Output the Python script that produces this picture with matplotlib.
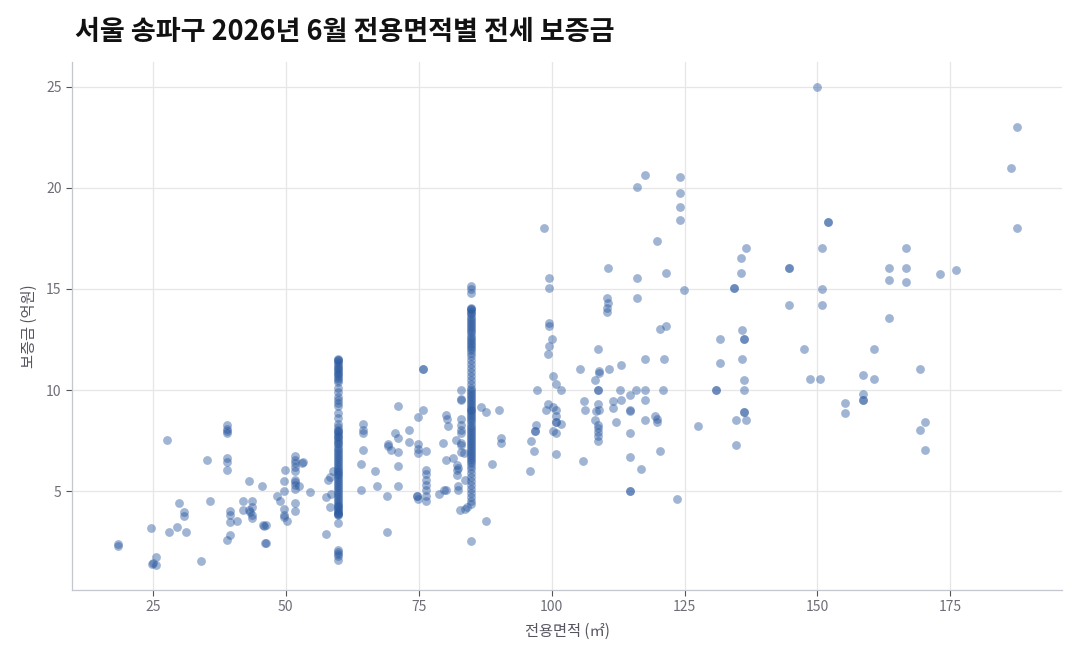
import matplotlib
matplotlib.use("Agg")
import matplotlib.pyplot as plt

plt.rcParams['font.family'] = ['Noto Sans CJK KR', 'DejaVu Sans']

title = "서울 송파구 2026년 6월 전용면적별 전세 보증금"
xlabel = "전용면적 (㎡)"
ylabel = "보증금 (억원)"
xticks = [25, 50, 75, 100, 125, 150, 175]
yticks = [5, 10, 15, 20, 25]

# scattered listings (area m², deposit 억원)
other_area = [18.5, 18.5, 27.6, 24.6, 24.9, 25.0, 25.6, 25.6, 28.0, 29.5, 29.9, 30.8, 30.8, 31.3, 34.0,
              35.1, 35.7, 39.0, 39.0, 39.0, 39.0, 39.0, 39.0, 39.0, 38.9, 39.5, 39.5, 39.5, 39.6, 40.8,
              41.9, 41.9, 43.0, 43.0, 43.2, 43.7, 43.7, 43.7, 43.7, 45.6, 45.8, 46.0, 46.3, 46.1, 46.2,
              48.3, 49.0, 49.8, 49.6, 49.7, 49.7, 49.7, 49.7, 50.3, 51.7, 51.7, 51.7, 51.7, 51.7, 51.7,
              51.7, 51.7, 51.7, 51.7, 51.7, 52.5, 53.1, 53.2, 54.5, 57.5, 57.6, 58.0, 58.3, 58.3, 58.8, 58.6,
              64.1, 64.1, 64.5, 64.5, 64.5, 64.5, 66.7, 67.2, 69.0, 69.0, 69.3, 69.3, 69.8, 70.5, 71.1,
              71.1, 71.1, 71.1, 71.1, 73.1, 73.1, 74.6, 74.7, 74.8, 74.8, 74.8, 74.8, 74.8, 75.8, 75.9,
              75.8, 76.3, 76.3, 76.3, 76.3, 76.3, 76.3, 76.3, 76.3, 78.9, 79.6, 80.2, 80.1, 79.8, 80.2,
              80.4, 80.6, 81.4, 82.1, 82.3, 82.3, 82.4, 82.4, 82.4, 82.3, 82.7, 82.9, 82.9, 82.9, 82.9,
              82.9, 82.9, 82.9, 82.9, 82.9, 83.0, 83.6, 83.8, 83.8, 84.0, 86.8, 87.7, 87.7, 88.8, 90.1,
              90.5, 90.5,
              95.9, 96.7, 96.1, 96.8, 96.8, 97.0, 97.2, 98.6, 99.6, 99.6, 99.6, 99.6, 100.0, 99.6, 99.4,
              100.3, 100.9, 101.8, 99.4, 99.0, 100.3, 100.9, 100.9, 100.8, 100.8, 101.8, 100.3, 100.9,
              100.9, 105.4, 106.1, 106.3, 105.9, 108.75, 108.9, 108.9, 108.1, 108.75, 108.75, 108.75,
              108.3, 108.9, 108.1, 108.75, 108.75, 108.75, 108.75, 108.75, 110.6, 110.4, 110.6, 110.4,
              110.4, 110.8, 111.6, 111.5, 112.1, 113.1, 112.9, 113.1, 114.8, 114.7, 114.7, 114.7, 114.7,
              114.8, 114.8, 115.9, 116.1, 116.1, 116.1, 117.5, 117.5, 117.5, 117.5, 117.5, 116.9, 119.5,
              119.9, 119.9, 119.9, 120.3, 120.4, 121.6, 120.9, 121.1, 121.5, 123.6, 124.1, 124.1, 124.1,
              124.1, 124.9, 127.6, 130.9, 130.9, 131.6, 131.6, 134.4, 134.4, 134.75, 134.75, 135.7, 135.7,
              136.6, 135.9, 136.2, 136.2, 135.9, 136.2, 136.2, 136.2, 136.2, 136.6,
              150.0, 187.6, 186.4, 187.6, 151.9, 151.9, 144.7, 144.7, 150.9, 163.4, 163.4, 166.6, 166.6,
              166.6, 173.1, 176.0, 150.9, 144.7, 150.9, 163.4, 147.4, 148.6, 150.4, 158.6, 160.6, 160.6,
              158.6, 158.6, 158.6, 155.1, 155.1, 169.3, 170.2, 169.3, 170.2]
other_dep = [2.41, 2.28, 7.52, 3.18, 1.42, 1.45, 1.75, 1.34, 2.97, 3.23, 4.42, 3.98, 3.78, 2.97, 1.54,
             6.53, 4.54, 8.27, 8.1, 8.0, 7.87, 6.65, 6.45, 6.07, 2.57, 4.03, 3.81, 3.48, 2.84, 3.53,
             4.54, 4.06, 5.53, 4.06, 4.0, 4.54, 4.22, 3.81, 3.7, 5.28, 3.32, 3.28, 3.32, 2.43, 2.43,
             4.75, 4.54, 6.04, 5.53, 5.01, 4.14, 3.85, 3.73, 3.53, 6.73, 6.53, 6.39, 6.2, 6.0, 5.58,
             5.46, 5.3, 5.13, 4.42, 4.03, 5.25, 6.42, 6.45, 4.97, 2.87, 4.72, 5.54, 5.71, 4.22, 5.99, 4.89,
             6.34, 5.05, 8.35, 8.02, 7.89, 7.03, 6.01, 5.28, 4.75, 2.97, 7.36, 7.23, 7.03, 7.86, 9.24,
             7.61, 6.93, 6.24, 5.28, 8.02, 7.43, 4.75, 4.78, 8.65, 7.36, 7.11, 6.87, 4.64, 11.02, 11.05,
             9.04, 7.0, 6.04, 5.87, 5.54, 5.3, 5.05, 4.75, 4.52, 4.85, 7.39, 6.53, 5.05, 5.05, 8.76,
             8.55, 8.23, 6.65, 7.52, 6.29, 6.07, 6.17, 5.05, 5.25, 5.79, 4.06, 10.03, 9.54, 9.5, 8.55,
             8.27, 8.05, 7.86, 7.39, 7.28, 6.95, 6.9, 5.54, 4.14, 4.2, 9.17, 8.93, 3.53, 6.34, 9.04,
             7.61, 7.39,
             6.01, 7.0, 7.5, 8.0, 8.0, 8.29, 10.02, 18.03, 15.53, 15.03, 13.34, 13.16, 12.52, 12.2, 11.79,
             10.71, 10.31, 10.02, 9.29, 9.02, 9.19, 9.02, 8.71, 8.41, 8.41, 8.33, 8.0, 7.88,
             6.84, 11.03, 9.47, 9.0, 6.51, 12.02, 10.93, 10.85, 10.51, 10.02, 10.02, 9.32,
             8.96, 9.02, 8.53, 8.29, 8.13, 7.91, 7.75, 7.5, 16.03, 14.54, 14.32, 14.04,
             13.87, 11.03, 9.47, 9.11, 8.41, 11.23, 10.02, 9.5, 9.77, 9.02, 8.96, 7.88, 6.71,
             5.02, 5.02, 10.02, 20.05, 15.53, 14.54, 20.61, 11.52, 10.02, 9.52, 8.53, 6.09, 8.71,
             8.58, 8.41, 17.37, 7.0, 13.01, 13.16, 10.02, 11.56, 15.78, 4.6, 20.55, 19.74, 19.04,
             18.41, 14.95, 8.21, 10.02, 10.02, 12.52, 11.32, 15.03, 15.03, 8.53, 7.27, 16.54, 15.78,
             17.04, 12.95, 12.55, 12.55, 11.56, 10.51, 10.02, 8.94, 8.94, 8.53,
             25.0, 23.0, 21.0, 18.03, 18.31, 18.31, 16.02, 16.02, 17.01, 16.02, 15.46, 17.01, 16.02,
             15.33, 15.74, 15.92, 15.02, 14.19, 14.19, 13.55, 12.03, 10.53, 10.53, 10.73, 12.03, 10.53,
             9.8, 9.49, 9.49, 9.37, 8.89, 11.02, 8.43, 8.04, 7.03]

# 59.9 m² listings
area_60 = 59.8
dep_60 = [11.55, 11.5, 11.5, 11.4, 11.3, 11.2, 11.1, 11.05, 10.95, 10.85, 10.8, 10.7, 10.6, 10.5, 10.4,
          10.1, 9.9, 9.65, 9.5, 9.35, 9.2, 8.85, 8.6, 8.35, 8.2, 8.05, 8.0, 7.95, 7.85, 7.75, 7.7, 7.6,
          7.5, 7.4, 7.35, 7.2, 7.1, 7.0, 6.9, 6.8, 6.7, 6.6, 6.5, 6.4, 6.3, 6.2, 6.1, 6.0, 5.95, 5.85,
          5.8, 5.7, 5.6, 5.5, 5.4, 5.3, 5.2, 5.1, 5.0, 4.9, 4.8, 4.7, 4.6, 4.5, 4.4, 4.3, 4.25, 4.2,
          4.1, 4.05, 4.0, 3.95, 3.9, 3.9, 3.85, 3.45, 2.1, 2.0, 1.9, 1.8, 1.6]

# 84.9 m² listings
area_85 = 84.9
dep_85 = [15.15, 15.0, 14.8, 14.05, 14.0, 14.0, 13.9, 13.8, 13.75, 13.6, 13.5, 13.4, 13.3, 13.2, 13.1,
          13.0, 12.9, 12.8, 12.7, 12.6, 12.5, 12.4, 12.3, 12.2, 12.1, 12.0, 11.85, 11.7, 11.5, 11.3,
          11.1, 10.9, 10.7, 10.5, 10.3, 10.1, 10.0, 9.9, 9.8, 9.7, 9.6, 9.5, 9.4, 9.3, 9.2, 9.1, 9.0,
          9.0, 8.9, 8.8, 8.7, 8.6, 8.5, 8.4, 8.3, 8.2, 8.1, 8.0, 7.9, 7.8, 7.7, 7.6, 7.5, 7.4, 7.3,
          7.2, 7.1, 7.0, 6.9, 6.8, 6.7, 6.6, 6.5, 6.4, 6.25, 6.1, 5.9, 5.7, 5.5, 5.3, 5.1, 4.9, 4.7,
          4.5, 4.35, 2.55]

xs = other_area + [area_60] * len(dep_60) + [area_85] * len(dep_85)
ys = other_dep + dep_60 + dep_85

fig = plt.figure(figsize=(10.8, 6.6), dpi=100)
ax = fig.add_axes([72/1080, 70/660, 990/1080, 528/660])

ax.scatter(xs, ys, s=40, color='#2c5aa0', alpha=0.45, linewidths=0, zorder=3)

ax.set_xlim(9.8, 196.0)
ax.set_ylim(0.12, 26.22)
ax.set_xticks(xticks)
ax.set_yticks(yticks)
ax.grid(True, color='#e6e6e6', linewidth=0.9, zorder=0)
for s in ['top', 'right']:
    ax.spines[s].set_visible(False)
for s in ['left', 'bottom']:
    ax.spines[s].set_color('#c4c7ce')
    ax.spines[s].set_linewidth(0.9)
ax.tick_params(axis='both', labelcolor='#6e6e78', labelsize=10, length=4, width=0.8,
               color='#555555')

ax.set_xlabel(xlabel, fontsize=11, color='#555560', labelpad=6)
ax.set_ylabel(ylabel, fontsize=11, color='#555560', labelpad=6)

fig.text(75/1080, 1 - 32/660, title, fontsize=19.5, fontweight='bold', color='#111111',
         ha='left', va='center')

fig.savefig('out.png', dpi=100)
